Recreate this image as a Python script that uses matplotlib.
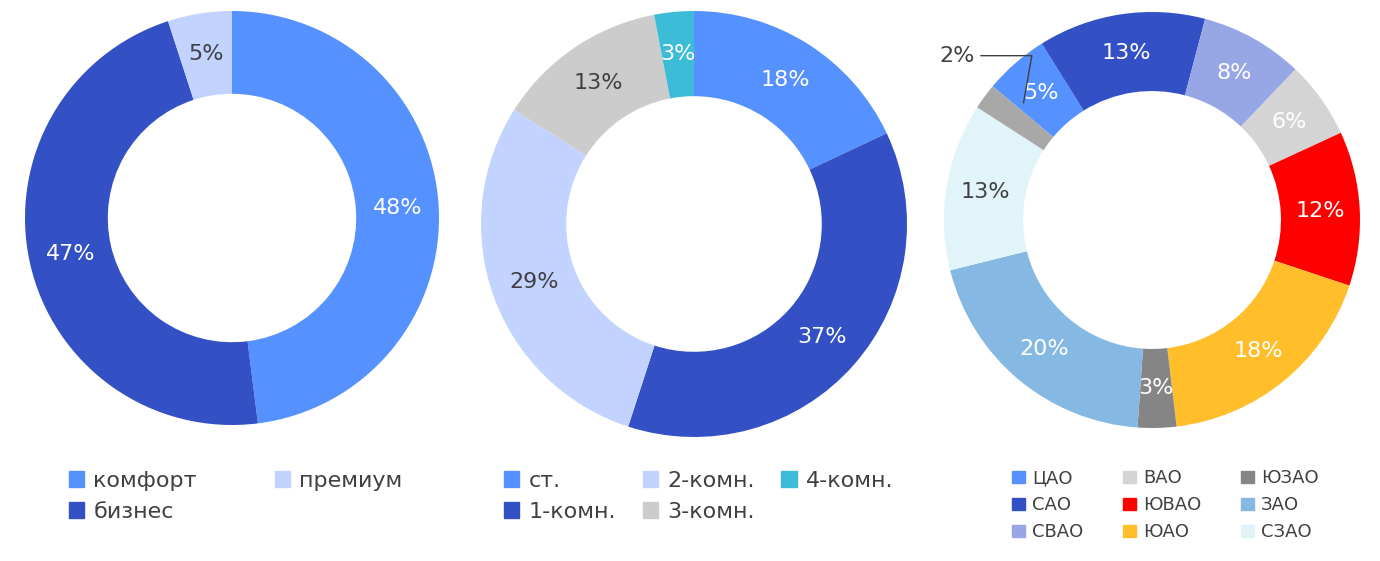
import matplotlib.pyplot as plt
from matplotlib.patches import Patch

plt.rcParams["font.family"] = "DejaVu Sans"

# chart 1
class_labels = ["комфорт", "бизнес", "премиум"]
class_values = [48, 47, 5]
class_colors = ["#5591FF", "#3350C4", "#C2D3FF"]
class_text = ["white", "white", "#404040"]

# chart 2
room_labels = ["ст.", "1-комн.", "2-комн.", "3-комн.", "4-комн."]
room_values = [18, 37, 29, 13, 3]
room_colors = ["#5591FF", "#3350C4", "#C2D3FF", "#CCCCCC", "#3DBCD8"]
room_text = ["white", "white", "#404040", "#404040", "white"]

# chart 3 (last 2% slice has no legend entry)
district_labels = ["ЦАО", "САО", "СВАО", "ВАО", "ЮВАО", "ЮАО", "ЮЗАО", "ЗАО", "СЗАО", ""]
district_values = [5, 13, 8, 6, 12, 18, 3, 20, 13, 2]
district_colors = ["#5591FF", "#3350C4", "#97A6E4", "#D4D4D4", "#FF0000", "#FFBE2A",
                   "#858585", "#85B8E3", "#E0F4F9", "#A8A8A8"]
district_text = ["white"] * 8 + ["#404040", "#404040"]

W, H = 1380, 561
fig = plt.figure(figsize=(W / 100, H / 100), dpi=100)


def ring(cx, cy, r, values, colors, textc, start, width, fs=16, skip=()):
    ax = fig.add_axes([(cx - r) / W, 1 - (cy + r) / H, 2 * r / W, 2 * r / H])
    wedges, texts = ax.pie(values, colors=colors, startangle=start, counterclock=False,
                           wedgeprops=dict(width=width, edgecolor="none"),
                           labels=[f"{v}%" for v in values], labeldistance=1 - width / 2)
    for i, t in enumerate(texts):
        t.set_ha("center")
        t.set_va("center")
        t.set_fontsize(fs)
        t.set_color(textc[i])
        if i in skip:
            t.set_visible(False)
    ax.set_xlim(-1, 1)
    ax.set_ylim(-1, 1)
    ax.set_aspect("equal")
    ax.axis("off")
    return ax


ring(232, 218, 207, class_values, class_colors, class_text, 90, 0.4)
ring(694, 224, 213, room_values, room_colors, room_text, 90, 0.4)
ax3 = ring(1152, 220, 208, district_values, district_colors, district_text, 140, 0.38, skip=(9,))
ax3.annotate("2%", xy=(-0.62, 0.55), xytext=(-0.85, 0.79), fontsize=16, color="#404040",
             ha="right", va="center",
             arrowprops=dict(arrowstyle="-", color="#404040", lw=1,
                             connectionstyle="angle,angleA=0,angleB=80,rad=0"))


def legend(labels, colors, x, y, ncol, fs, colspace):
    handles = [Patch(color=c, label=l) for l, c in zip(labels, colors)]
    fig.legend(handles=handles, loc="upper left", bbox_to_anchor=(x / W, 1 - y / H),
               ncol=ncol, frameon=False, fontsize=fs, handlelength=0.7, handleheight=0.7,
               handletextpad=0.4, columnspacing=colspace, labelspacing=0.5,
               labelcolor="#404040", borderaxespad=0)


legend(class_labels, class_colors, 60, 462, 2, 16, 3.5)
legend(room_labels, room_colors, 495, 462, 3, 16, 1.2)
legend(district_labels[:9], district_colors[:9], 1005, 462, 3, 13, 2.2)

fig.savefig("out.png", dpi=100)
